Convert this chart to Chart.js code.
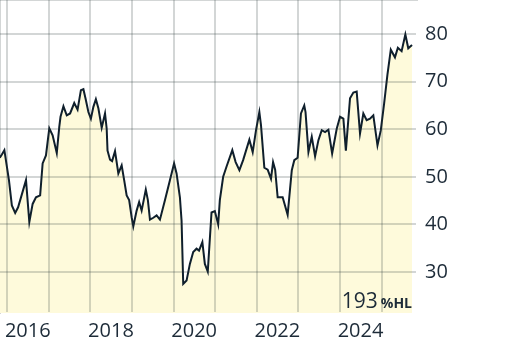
<!DOCTYPE html>
<html>
<head>
<meta charset="utf-8">
<script src="https://cdn.jsdelivr.net/npm/chart.js@4.4.1/dist/chart.umd.min.js"></script>
<style>
  body { margin: 0; background: #fff; }
  #wrap { position: relative; width: 512px; height: 346px; }
</style>
</head>
<body>
<div id="wrap"><canvas id="canvas"></canvas></div>
<script>
// time as fractional years, price values
var years = [
  2015.82, 2015.87, 2015.93, 2016.04, 2016.11, 2016.19, 2016.26, 2016.45, 2016.53, 2016.61,
  2016.69, 2016.79, 2016.85, 2016.93, 2017.01, 2017.09, 2017.19, 2017.25, 2017.28, 2017.35,
  2017.43, 2017.51, 2017.61, 2017.69, 2017.77, 2017.83, 2017.88, 2017.95, 2018.01, 2018.07,
  2018.13, 2018.19, 2018.27, 2018.35, 2018.39, 2018.41, 2018.47, 2018.52, 2018.59, 2018.67,
  2018.75, 2018.81, 2018.87, 2018.93, 2018.99, 2019.03, 2019.11, 2019.17, 2019.23, 2019.33,
  2019.38, 2019.43, 2019.51, 2019.59, 2019.67, 2019.79, 2019.91, 2020.01, 2020.07, 2020.15,
  2020.19, 2020.23, 2020.31, 2020.39, 2020.47, 2020.55, 2020.61, 2020.69, 2020.75, 2020.82,
  2020.91, 2020.99, 2021.07, 2021.11, 2021.19, 2021.27, 2021.41, 2021.49, 2021.58, 2021.67,
  2021.82, 2021.90, 2021.98, 2022.06, 2022.10, 2022.18, 2022.26, 2022.34, 2022.39, 2022.44,
  2022.50, 2022.62, 2022.74, 2022.84, 2022.90, 2022.98, 2023.06, 2023.14, 2023.17, 2023.24,
  2023.32, 2023.40, 2023.48, 2023.56, 2023.64, 2023.72, 2023.81, 2023.92, 2024.00, 2024.08,
  2024.14, 2024.24, 2024.32, 2024.40, 2024.48, 2024.56, 2024.64, 2024.72, 2024.80, 2024.90,
  2024.98, 2025.06, 2025.14, 2025.22, 2025.32, 2025.39, 2025.48, 2025.57, 2025.64, 2025.73
];
var prices = [
  54.0, 54.7, 55.6, 49.3, 44.0, 42.4, 43.6, 49.3, 40.5, 44.3,
  45.7, 46.1, 52.8, 54.5, 60.2, 58.7, 55.0, 60.5, 62.6, 64.8,
  62.9, 63.3, 65.5, 64.1, 68.2, 68.4, 66.5, 63.6, 62.2, 64.7,
  66.3, 64.4, 60.3, 63.3, 60.1, 55.5, 53.6, 53.3, 55.4, 50.7,
  52.4, 49.3, 46.1, 45.1, 41.5, 39.6, 42.9, 44.7, 42.9, 47.3,
  45.1, 41.0, 41.4, 41.9, 41.0, 45.1, 49.3, 52.8, 50.7, 45.7,
  40.8, 27.5, 28.2, 31.7, 34.2, 34.9, 34.5, 36.3, 31.7, 30.1,
  42.5, 42.8, 40.0, 45.1, 50.0, 52.1, 55.6, 53.1, 51.4, 53.5,
  57.8, 55.2, 59.8, 63.6, 60.8, 51.9, 51.5, 49.6, 53.1, 51.5,
  45.7, 45.7, 42.0, 51.4, 53.5, 54.0, 63.3, 65.0, 63.6, 55.2,
  58.4, 54.3, 57.7, 59.8, 59.4, 59.9, 54.9, 60.1, 62.6, 62.2,
  55.5, 66.5, 67.7, 67.9, 59.1, 63.3, 61.9, 62.2, 62.9, 56.6,
  59.8, 65.4, 71.5, 76.7, 75.1, 77.1, 76.4, 79.9, 77.0, 77.7
];
var yTicks = [30, 40, 50, 60, 70, 80];
var xGridYears = [2016, 2017, 2018, 2019, 2020, 2021, 2022, 2023, 2024, 2025];
var rangeValue = '193';
var rangeUnit = '%HL';

var textColor = '#1d2b38';
var gridColor = 'rgba(35,50,50,0.2)';

var points = years.map(function(t, i) { return { x: t, y: prices[i] }; });

var rangeLabel = {
  id: 'rangeLabel',
  afterDatasetsDraw: function(chart) {
    var ctx = chart.ctx;
    var right = chart.chartArea.right - 5;
    var base = chart.chartArea.bottom - 5;
    ctx.save();
    ctx.fillStyle = textColor;
    ctx.textAlign = 'right';
    ctx.textBaseline = 'alphabetic';
    ctx.font = 'bold 14px "Open Sans"';
    ctx.fillText(rangeUnit, right, base);
    var w = ctx.measureText(rangeUnit).width;
    ctx.font = '21px "Open Sans"';
    ctx.fillText(rangeValue, right - w - 3, base);
    ctx.restore();
  }
};

window.onload = function() {
  var ctx = document.getElementById('canvas').getContext('2d');
  window.myChart = new Chart(ctx, {
    type: 'line',
    data: {
      datasets: [{
        data: points,
        borderColor: '#0f1f2c',
        borderWidth: 2,
        backgroundColor: '#fefadb',
        fill: 'start',
        pointRadius: 0,
        tension: 0
      }]
    },
    options: {
      responsive: true,
      maintainAspectRatio: false,
      animation: false,
      layout: { padding: 0 },
      plugins: {
        legend: { display: false },
        tooltip: { enabled: false }
      },
      scales: {
        x: {
          type: 'linear',
          min: 2015.825,
          max: 2025.85,
          afterBuildTicks: function(scale) {
            scale.ticks = xGridYears.map(function(v) { return { value: v }; });
          },
          afterFit: function(scale) {
            scale.height = 33;
            scale.paddingLeft = 0;
            scale.paddingRight = 0;
          },
          grid: { color: gridColor, lineWidth: 2, drawTicks: false, z: 1 },
          border: { color: gridColor, width: 2 },
          ticks: {
            autoSkip: false,
            maxRotation: 0,
            padding: 6,
            labelOffset: 20.5,
            color: textColor,
            font: { family: 'Open Sans', size: 20 },
            callback: function(v) { return v % 2 === 0 ? String(v) : ''; }
          }
        },
        y: {
          position: 'right',
          min: 21.39,
          max: 87.14,
          afterBuildTicks: function(scale) {
            scale.ticks = yTicks.map(function(v) { return { value: v }; });
          },
          afterFit: function(scale) {
            scale.width = 95;
            scale.paddingTop = 0;
            scale.paddingBottom = 0;
          },
          grid: { color: gridColor, lineWidth: 2, drawTicks: false, z: 1 },
          border: { color: gridColor, width: 2 },
          ticks: {
            padding: 8,
            color: textColor,
            font: { family: 'Open Sans', size: 20 }
          }
        }
      }
    },
    plugins: [rangeLabel]
  });
};
</script>
</body>
</html>
